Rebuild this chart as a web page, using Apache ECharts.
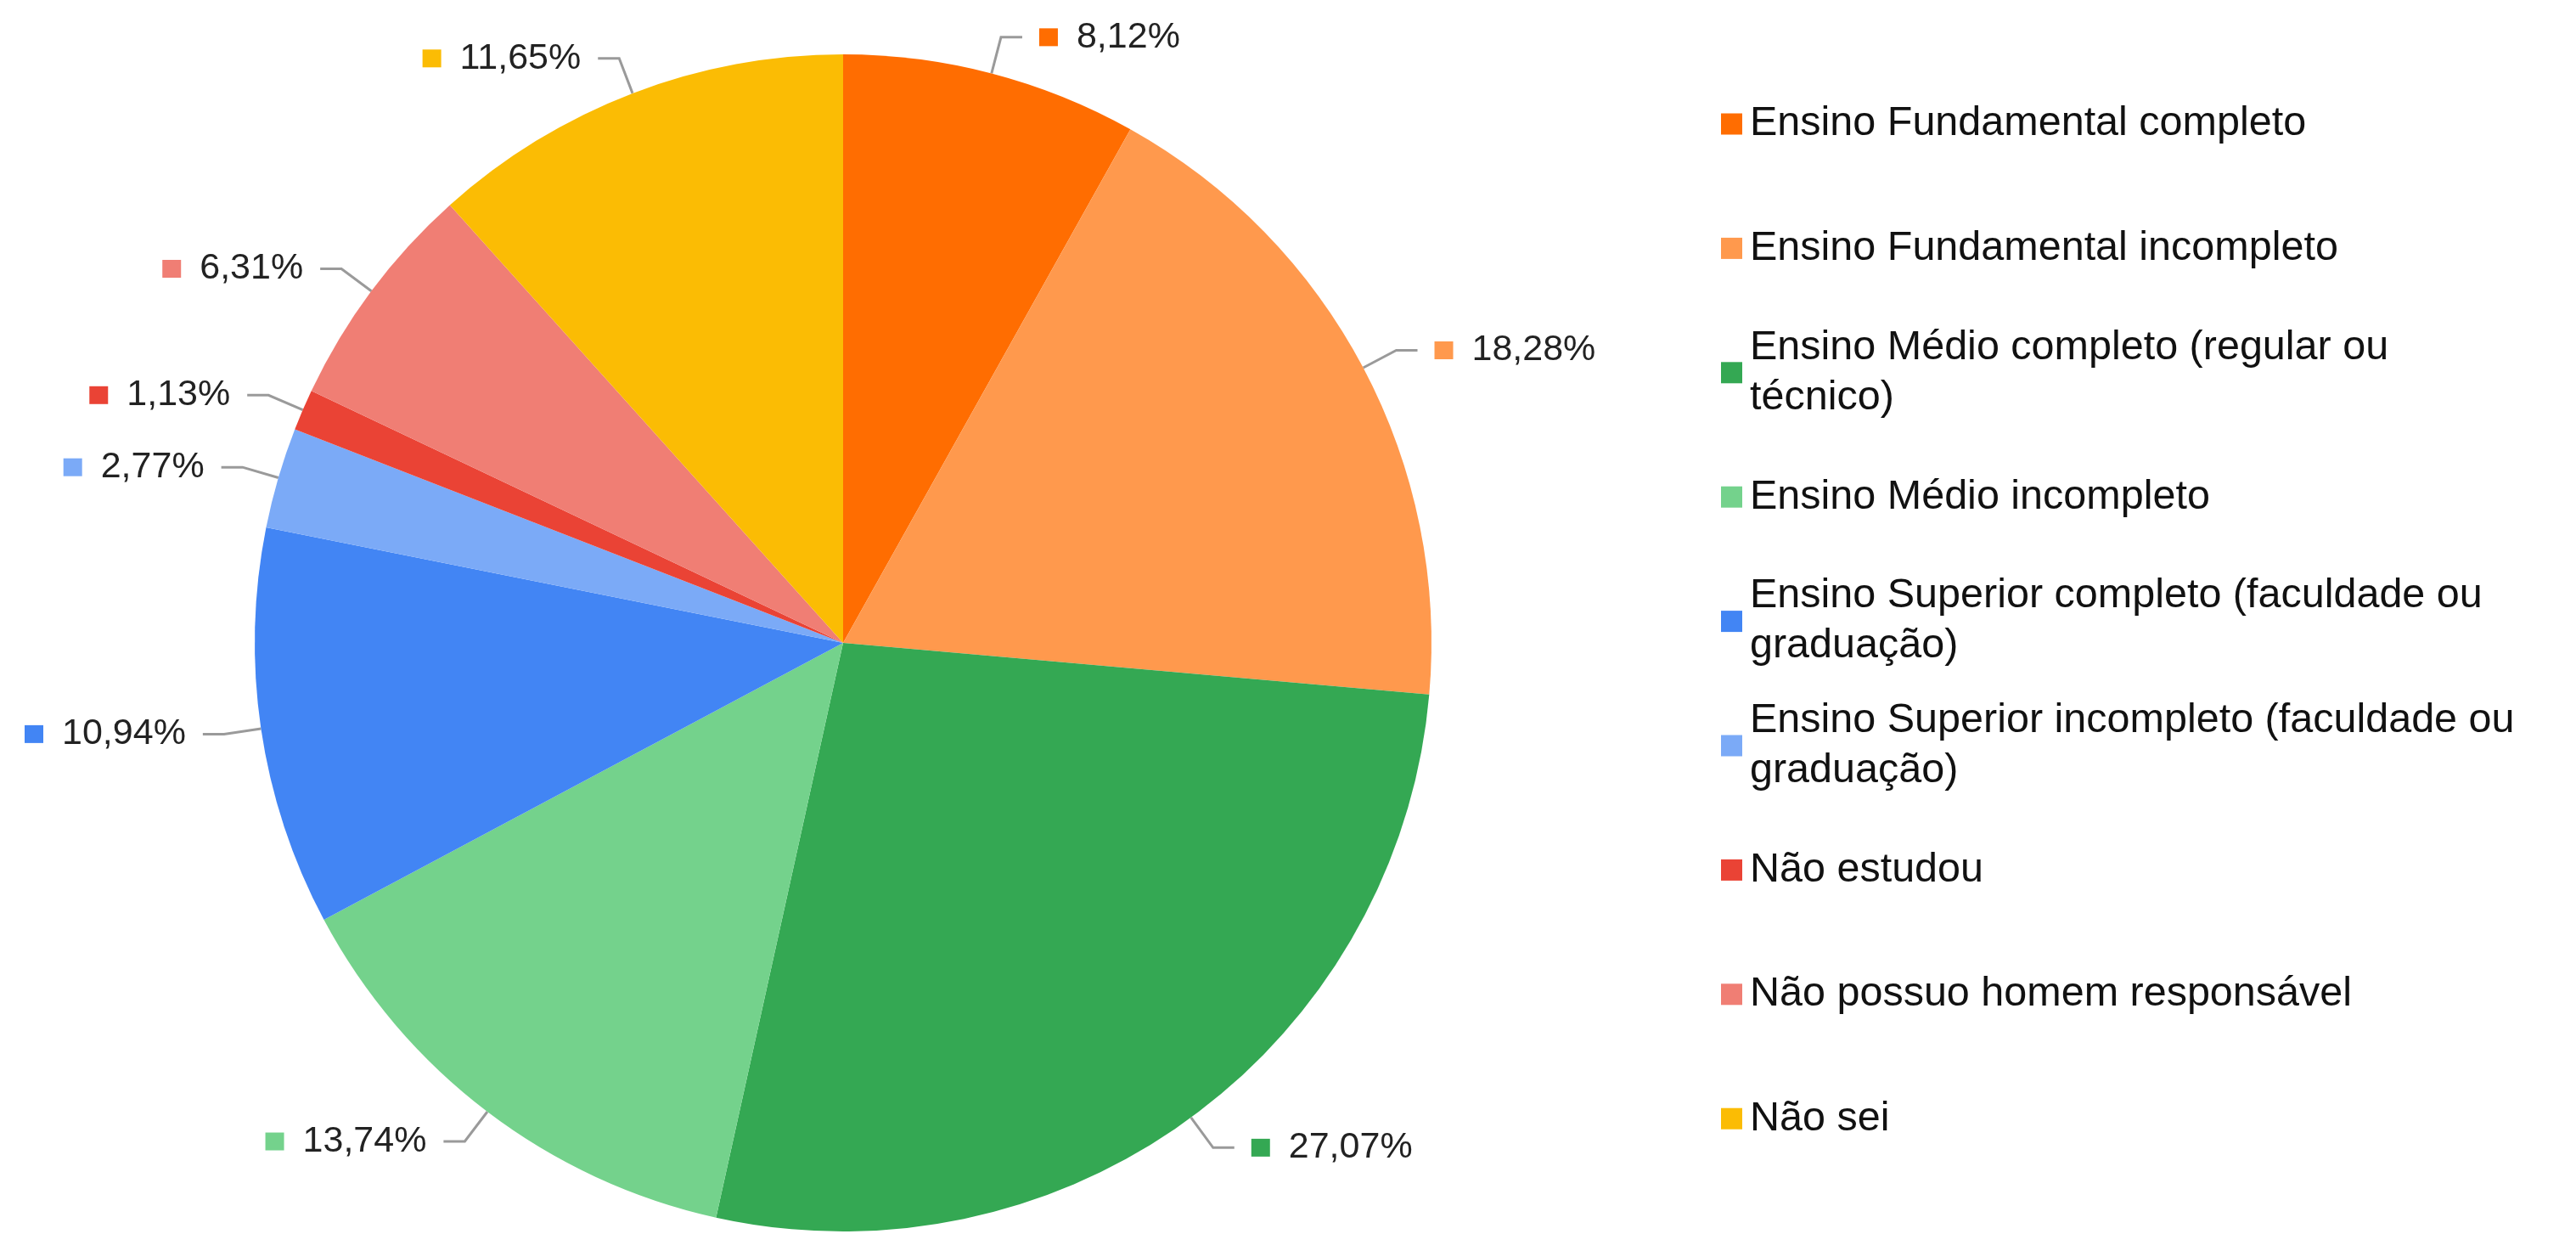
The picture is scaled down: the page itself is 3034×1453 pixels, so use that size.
<!DOCTYPE html>
<html>
<head>
<meta charset="utf-8">
<script src="https://cdn.jsdelivr.net/npm/echarts@6/dist/echarts.min.js"></script>
<style>
  html, body { margin: 0; padding: 0; background: #ffffff; }
  #chart { width: 3034px; height: 1453px; }
</style>
</head>
<body>
<div id="chart"></div>
<script>
const categories = [
  'Ensino Fundamental completo',
  'Ensino Fundamental incompleto',
  'Ensino Médio completo (regular ou técnico)',
  'Ensino Médio incompleto',
  'Ensino Superior completo (faculdade ou graduação)',
  'Ensino Superior incompleto (faculdade ou graduação)',
  'Não estudou',
  'Não possuo homem responsável',
  'Não sei'
];
const legendLabels = [
  'Ensino Fundamental completo',
  'Ensino Fundamental incompleto',
  'Ensino Médio completo (regular ou\ntécnico)',
  'Ensino Médio incompleto',
  'Ensino Superior completo (faculdade ou\ngraduação)',
  'Ensino Superior incompleto (faculdade ou\ngraduação)',
  'Não estudou',
  'Não possuo homem responsável',
  'Não sei'
];
const values = [8.12, 18.28, 27.07, 13.74, 10.94, 2.77, 1.13, 6.31, 11.65];
const colors = ['#FF6D01', '#FF994D', '#34A853', '#74D28C', '#4285F4', '#7BAAF7', '#EA4335', '#F07E74', '#FBBC04'];

const FONT = '"Liberation Sans", Arial, Helvetica, sans-serif';
const LEG_FONT = 48.5, LEG_LH = 59;
const LEG_TOP0 = 146, LEG_STEP = 146.4;

const chart = echarts.init(document.getElementById('chart'));

const rich = { t: { fontSize: 43, color: '#222222', fontFamily: FONT, padding: [0, 0, 0, 22] } };
colors.forEach((c, i) => { rich['m' + i] = { width: 22, height: 21, backgroundColor: c }; });

const legends = categories.map((name, i) => {
  const multi = legendLabels[i].indexOf('\n') >= 0;
  const yc = LEG_TOP0 + i * LEG_STEP;
  return {
    data: [name],
    orient: 'vertical',
    left: 2027,
    top: multi ? yc - LEG_LH * 1.5 : yc - LEG_LH / 2,
    padding: 0,
    icon: 'rect',
    itemWidth: 25,
    itemHeight: 25,
    selectedMode: false,
    formatter: () => legendLabels[i],
    textStyle: {
      fontSize: LEG_FONT,
      lineHeight: LEG_LH,
      color: '#111111',
      fontFamily: FONT,
      padding: multi ? [LEG_LH, 0, 0, 4] : [0, 0, 0, 4]
    }
  };
});

chart.setOption({
  animation: false,
  backgroundColor: '#ffffff',
  color: colors,
  legend: legends,
  series: [{
    type: 'pie',
    center: [993, 757],
    radius: 693,
    startAngle: 90,
    clockwise: true,
    avoidLabelOverlap: true,
    minShowLabelAngle: 0,
    emphasis: { disabled: true },
    itemStyle: { borderWidth: 0 },
    label: {
      show: true,
      position: 'outside',
      distanceToLabelLine: 20,
      formatter: p => '{m' + p.dataIndex + '| }{t|' + p.value.toFixed(2).replace('.', ',') + '%}',
      rich: rich
    },
    labelLine: {
      show: true,
      length: 44,
      length2: 25,
      smooth: false,
      lineStyle: { color: '#9A9A9A', width: 3 }
    },
    data: categories.map((n, i) => ({ name: n, value: values[i] }))
  }]
});
</script>
</body>
</html>
